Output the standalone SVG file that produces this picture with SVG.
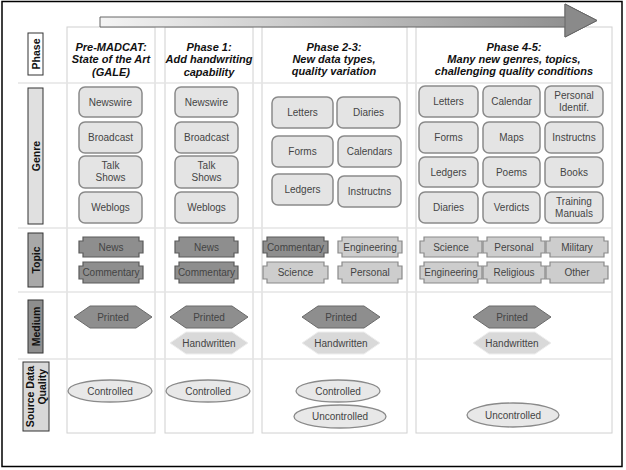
<svg xmlns="http://www.w3.org/2000/svg" width="626" height="470" viewBox="0 0 626 470">
<defs>
<linearGradient id="shaft" x1="0" y1="0" x2="1" y2="0">
<stop offset="0" stop-color="#f4f4f4"/>
<stop offset="1" stop-color="#8a8a8a"/>
</linearGradient>
<style>
text{font-family:"Liberation Sans",Arial,sans-serif;text-anchor:middle}
.hd{font-size:11px;font-weight:bold;font-style:italic;fill:#111}
.rl{font-size:10.5px;font-weight:bold;fill:#111}
.t{font-size:10px;fill:#444}
.col{fill:#fff;stroke:#d0d0d0;stroke-width:1}
.sep{stroke:#e4e4e4;stroke-width:1.5}
.g{fill:#e4e4e4;stroke:#8a8a8a;stroke-width:1.5}
.td{fill:#8e8e8e;stroke:#5a5a5a;stroke-width:1.2}
.tl{fill:#cdcdcd;stroke:#8a8a8a;stroke-width:1.2}
.hp{fill:#8e8e8e;stroke:#6a6a6a;stroke-width:1}
.hh{fill:#d9d9d9;stroke:#eeeeee;stroke-width:1}
.q{fill:#e8e8e8;stroke:#8a8a8a;stroke-width:1.3}
</style>
</defs>
<rect x="2" y="1.5" width="620" height="465" fill="#fff" stroke="#000" stroke-width="1.5"/>
<g id="columns">
<rect class="col" x="67" y="27" width="88" height="406"/>
<rect class="col" x="165" y="27" width="88" height="406"/>
<rect class="col" x="262" y="27" width="145" height="406"/>
<rect class="col" x="416" y="27" width="196" height="406"/>
<line class="sep" x1="18" y1="83" x2="612" y2="83"/>
<line class="sep" x1="18" y1="228" x2="612" y2="228"/>
<line class="sep" x1="18" y1="292" x2="612" y2="292"/>
<line class="sep" x1="18" y1="359" x2="612" y2="359"/>
</g>
<g id="arrow">
<path d="M100,17 H565 V4 L597,20.5 L565,37 V27 H100 Z" fill="url(#shaft)" stroke="#666" stroke-width="1"/>
<path d="M565,4 L597,20.5 L565,37 Z" fill="#8a8a8a" stroke="#666" stroke-width="1"/>
</g>
<g id="row-labels">
<g id="lbl-phase"><rect x="28" y="33" width="15" height="42" fill="#fff" stroke="#333"/><text class="rl" transform="translate(39.5,54) rotate(-90)">Phase</text></g>
<g id="lbl-genre"><rect x="28" y="88" width="15" height="136" fill="#e0e0e0" stroke="#333"/><text class="rl" transform="translate(39.5,156) rotate(-90)">Genre</text></g>
<g id="lbl-topic"><rect x="28" y="233" width="15" height="54" fill="#a8a8a8" stroke="#333"/><text class="rl" transform="translate(39.5,260) rotate(-90)">Topic</text></g>
<g id="lbl-medium"><rect x="28" y="300" width="15" height="53" fill="#8e8e8e" stroke="#333"/><text class="rl" transform="translate(39.5,326.5) rotate(-90)">Medium</text></g>
<g id="lbl-quality"><rect x="23" y="362" width="26" height="69" fill="#d8d8d8" stroke="#333"/><text class="rl" transform="translate(34,396.5) rotate(-90)">Source Data</text><text class="rl" transform="translate(45.5,369) rotate(-90)" style="text-anchor:end">Quality</text></g>
</g>
<g id="headers">
<g id="h1"><text class="hd" x="111" y="51">Pre-MADCAT:</text><text class="hd" x="111" y="63">State of the Art</text><text class="hd" x="111" y="76">(GALE)</text></g>
<g id="h2"><text class="hd" x="209" y="51">Phase 1:</text><text class="hd" x="209" y="63">Add handwriting</text><text class="hd" x="209" y="76">capability</text></g>
<g id="h3"><text class="hd" x="334" y="51">Phase 2-3:</text><text class="hd" x="334" y="63">New data types,</text><text class="hd" x="334" y="75">quality variation</text></g>
<g id="h4"><text class="hd" x="514" y="51">Phase 4-5:</text><text class="hd" x="514" y="63">Many new genres, topics,</text><text class="hd" x="514" y="75">challenging quality conditions</text></g>
</g>
<g id="genre">
<g id="g1-newswire"><rect class="g" x="79" y="87" width="63" height="30" rx="6"/><text class="t" x="110.5" y="105.5">Newswire</text></g>
<g id="g1-broadcast"><rect class="g" x="79" y="122" width="63" height="31" rx="6"/><text class="t" x="110.5" y="141">Broadcast</text></g>
<g id="g1-talk"><rect class="g" x="79" y="156" width="63" height="32" rx="6"/><text class="t" x="110.5" y="169">Talk</text><text class="t" x="110.5" y="181">Shows</text></g>
<g id="g1-weblogs"><rect class="g" x="79" y="192" width="63" height="31" rx="6"/><text class="t" x="110.5" y="211">Weblogs</text></g>
<g id="g2-newswire"><rect class="g" x="175" y="87" width="63" height="30" rx="6"/><text class="t" x="206.5" y="105.5">Newswire</text></g>
<g id="g2-broadcast"><rect class="g" x="175" y="122" width="63" height="31" rx="6"/><text class="t" x="206.5" y="141">Broadcast</text></g>
<g id="g2-talk"><rect class="g" x="175" y="156" width="63" height="32" rx="6"/><text class="t" x="206.5" y="169">Talk</text><text class="t" x="206.5" y="181">Shows</text></g>
<g id="g2-weblogs"><rect class="g" x="175" y="192" width="63" height="31" rx="6"/><text class="t" x="206.5" y="211">Weblogs</text></g>
<g id="g3-letters"><rect class="g" x="272" y="97" width="61" height="31" rx="6"/><text class="t" x="302.5" y="116">Letters</text></g>
<g id="g3-diaries"><rect class="g" x="337" y="97" width="63" height="31" rx="6"/><text class="t" x="368.5" y="116">Diaries</text></g>
<g id="g3-forms"><rect class="g" x="272" y="136" width="61" height="31" rx="6"/><text class="t" x="302.5" y="155">Forms</text></g>
<g id="g3-calendars"><rect class="g" x="338" y="136" width="63" height="31" rx="6"/><text class="t" x="369.5" y="155">Calendars</text></g>
<g id="g3-ledgers"><rect class="g" x="272" y="174" width="61" height="31" rx="6"/><text class="t" x="302.5" y="193">Ledgers</text></g>
<g id="g3-instructns"><rect class="g" x="338" y="176" width="63" height="31" rx="6"/><text class="t" x="369.5" y="195">Instructns</text></g>
<g id="g4-letters"><rect class="g" x="419" y="86" width="59" height="31" rx="6"/><text class="t" x="448.5" y="105">Letters</text></g>
<g id="g4-calendar"><rect class="g" x="483" y="86" width="57" height="31" rx="6"/><text class="t" x="511.5" y="105">Calendar</text></g>
<g id="g4-personal"><rect class="g" x="545" y="86" width="58" height="31" rx="6"/><text class="t" x="574" y="98.5">Personal</text><text class="t" x="574" y="110.5">Identif.</text></g>
<g id="g4-forms"><rect class="g" x="419" y="122" width="59" height="31" rx="6"/><text class="t" x="448.5" y="141">Forms</text></g>
<g id="g4-maps"><rect class="g" x="483" y="122" width="57" height="31" rx="6"/><text class="t" x="511.5" y="141">Maps</text></g>
<g id="g4-instructns"><rect class="g" x="545" y="122" width="58" height="31" rx="6"/><text class="t" x="574" y="141">Instructns</text></g>
<g id="g4-ledgers"><rect class="g" x="419" y="157" width="59" height="30" rx="6"/><text class="t" x="448.5" y="175.5">Ledgers</text></g>
<g id="g4-poems"><rect class="g" x="483" y="157" width="57" height="30" rx="6"/><text class="t" x="511.5" y="175.5">Poems</text></g>
<g id="g4-books"><rect class="g" x="545" y="157" width="58" height="30" rx="6"/><text class="t" x="574" y="175.5">Books</text></g>
<g id="g4-diaries"><rect class="g" x="419" y="192" width="59" height="31" rx="6"/><text class="t" x="448.5" y="211">Diaries</text></g>
<g id="g4-verdicts"><rect class="g" x="483" y="192" width="57" height="31" rx="6"/><text class="t" x="511.5" y="211">Verdicts</text></g>
<g id="g4-training"><rect class="g" x="545" y="192" width="58" height="31" rx="6"/><text class="t" x="574" y="204.5">Training</text><text class="t" x="574" y="216.5">Manuals</text></g>
</g>
<g id="topic">
<g id="t1-news"><path class="td" d="M83,237 H139 V241 H143 V253 H139 V257 H83 V253 H79 V241 H83 Z"/><text class="t" x="111" y="250.5">News</text></g>
<g id="t1-commentary"><path class="td" d="M83,262 H139 V266 H143 V279 H139 V283 H83 V279 H79 V266 H83 Z"/><text class="t" x="111" y="276">Commentary</text></g>
<g id="t2-news"><path class="td" d="M179,237 H234 V241 H238 V253 H234 V257 H179 V253 H175 V241 H179 Z"/><text class="t" x="206.5" y="250.5">News</text></g>
<g id="t2-commentary"><path class="td" d="M179,262 H234 V266 H238 V279 H234 V283 H179 V279 H175 V266 H179 Z"/><text class="t" x="206.5" y="276">Commentary</text></g>
<g id="t3-commentary"><path class="td" d="M267,237 H324 V241 H328 V253 H324 V257 H267 V253 H263 V241 H267 Z"/><text class="t" x="295.5" y="250.5">Commentary</text></g>
<g id="t3-engineering"><path class="tl" d="M342,237 H398 V241 H402 V253 H398 V257 H342 V253 H338 V241 H342 Z"/><text class="t" x="370" y="250.5">Engineering</text></g>
<g id="t3-science"><path class="tl" d="M267,262 H324 V266 H328 V279 H324 V283 H267 V279 H263 V266 H267 Z"/><text class="t" x="295.5" y="276">Science</text></g>
<g id="t3-personal"><path class="tl" d="M342,262 H398 V266 H402 V279 H398 V283 H342 V279 H338 V266 H342 Z"/><text class="t" x="370" y="276">Personal</text></g>
<g id="t4-science"><path class="tl" d="M424,237 H478 V241 H482 V253 H478 V257 H424 V253 H420 V241 H424 Z"/><text class="t" x="451" y="250.5">Science</text></g>
<g id="t4-personal"><path class="tl" d="M487,237 H541 V241 H545 V253 H541 V257 H487 V253 H483 V241 H487 Z"/><text class="t" x="514" y="250.5">Personal</text></g>
<g id="t4-military"><path class="tl" d="M550,237 H604 V241 H608 V253 H604 V257 H550 V253 H546 V241 H550 Z"/><text class="t" x="577" y="250.5">Military</text></g>
<g id="t4-engineering"><path class="tl" d="M424,262 H478 V266 H482 V279 H478 V283 H424 V279 H420 V266 H424 Z"/><text class="t" x="451" y="276">Engineering</text></g>
<g id="t4-religious"><path class="tl" d="M487,262 H541 V266 H545 V279 H541 V283 H487 V279 H483 V266 H487 Z"/><text class="t" x="514" y="276">Religious</text></g>
<g id="t4-other"><path class="tl" d="M550,262 H604 V266 H608 V279 H604 V283 H550 V279 H546 V266 H550 Z"/><text class="t" x="577" y="276">Other</text></g>
</g>
<g id="medium">
<g id="m1-printed"><polygon class="hp" points="74,317 90,306 136,306 152,317 136,328 90,328"/><text class="t" x="113" y="320.5">Printed</text></g>
<g id="m2-printed"><polygon class="hp" points="170,317 186,306 232,306 248,317 232,328 186,328"/><text class="t" x="209" y="320.5">Printed</text></g>
<g id="m2-handwritten"><polygon class="hh" points="170,343 186,332 232,332 248,343 232,354 186,354"/><text class="t" x="209" y="346.5">Handwritten</text></g>
<g id="m3-printed"><polygon class="hp" points="302,317 318,306 364,306 380,317 364,328 318,328"/><text class="t" x="341" y="320.5">Printed</text></g>
<g id="m3-handwritten"><polygon class="hh" points="302,343 318,332 364,332 380,343 364,354 318,354"/><text class="t" x="341" y="346.5">Handwritten</text></g>
<g id="m4-printed"><polygon class="hp" points="473,317 489,306 535,306 551,317 535,328 489,328"/><text class="t" x="512" y="320.5">Printed</text></g>
<g id="m4-handwritten"><polygon class="hh" points="473,343 489,332 535,332 551,343 535,354 489,354"/><text class="t" x="512" y="346.5">Handwritten</text></g>
</g>
<g id="quality">
<g id="q1-controlled"><ellipse class="q" cx="110" cy="391" rx="42" ry="11"/><text class="t" x="110" y="394.5">Controlled</text></g>
<g id="q2-controlled"><ellipse class="q" cx="208" cy="391" rx="42" ry="11"/><text class="t" x="208" y="394.5">Controlled</text></g>
<g id="q3-controlled"><ellipse class="q" cx="338" cy="391" rx="42" ry="11"/><text class="t" x="338" y="394.5">Controlled</text></g>
<g id="q3-uncontrolled"><ellipse class="q" cx="340" cy="416.5" rx="46" ry="11.5"/><text class="t" x="340" y="420">Uncontrolled</text></g>
<g id="q4-uncontrolled"><ellipse class="q" cx="513" cy="415" rx="46" ry="12"/><text class="t" x="513" y="418.5">Uncontrolled</text></g>
</g>
</svg>
